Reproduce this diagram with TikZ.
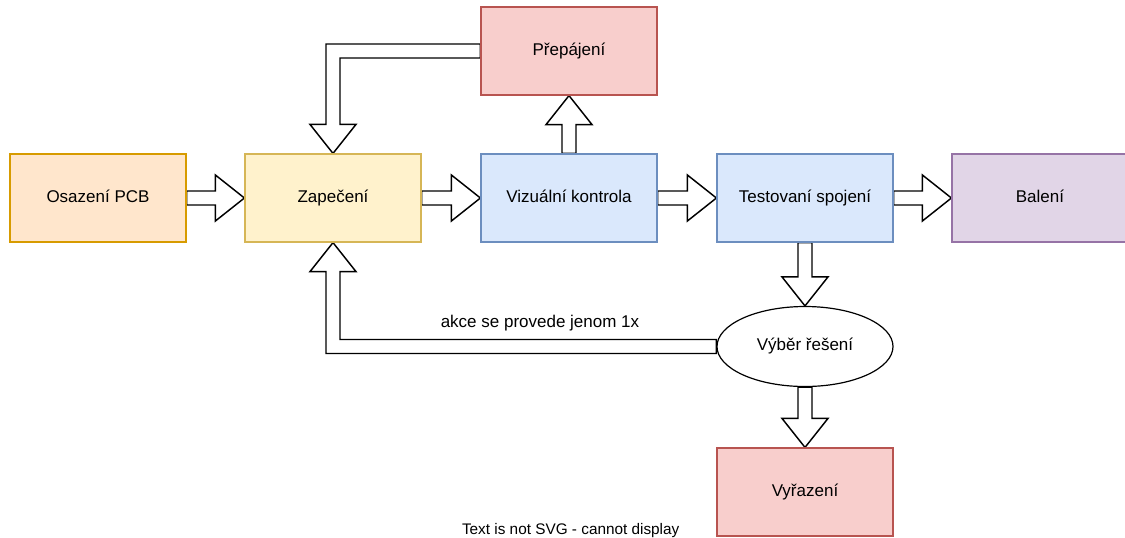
\documentclass[tikz,border=0pt]{standalone}
\usepackage{fontspec}
\setmainfont{Liberation Sans}
\usetikzlibrary{shapes.geometric,calc,backgrounds}
\definecolor{orfill}{HTML}{FFE6CC}\definecolor{ordraw}{HTML}{D79B00}
\definecolor{yefill}{HTML}{FFF2CC}\definecolor{yedraw}{HTML}{D6B656}
\definecolor{blfill}{HTML}{DAE8FC}\definecolor{bldraw}{HTML}{6C8EBF}
\definecolor{refill}{HTML}{F8CECC}\definecolor{redraw}{HTML}{B85450}
\definecolor{pufill}{HTML}{E1D5E7}\definecolor{pudraw}{HTML}{9673A6}
\tikzset{
  box/.style={draw, line width=0.9pt, minimum width=132pt, minimum height=66pt, inner sep=0pt,
    text height=9pt, text depth=2.6pt, font=\fontsize{12.75}{15}\selectfont},
  blk/.style={draw=black, fill=white, line width=1.1pt, line join=miter},
  lbl/.style={font=\fontsize{12.75}{15}\selectfont, inner sep=0pt},
}
% horizontal block arrow a.east -> b.west
\newcommand\hblk[2]{\draw[blk] let \p1=(#1.east), \p2=(#2.west) in
  (\x1,\y1+5.25pt) -- (\x2-21.75pt,\y1+5.25pt) -- (\x2-21.75pt,\y1+17.25pt) -- (\x2,\y1)
  -- (\x2-21.75pt,\y1-17.25pt) -- (\x2-21.75pt,\y1-5.25pt) -- (\x1,\y1-5.25pt) -- cycle;}
% downward block arrow a.south -> b.north
\newcommand\dblk[2]{\draw[blk] let \p1=(#1.south), \p2=(#2.north) in
  (\x1-5.25pt,\y1) -- (\x1-5.25pt,\y2+21.75pt) -- (\x1-17.25pt,\y2+21.75pt) -- (\x1,\y2)
  -- (\x1+17.25pt,\y2+21.75pt) -- (\x1+5.25pt,\y2+21.75pt) -- (\x1+5.25pt,\y1) -- cycle;}
% upward block arrow a.north -> b.south
\newcommand\ublk[2]{\draw[blk] let \p1=(#1.north), \p2=(#2.south) in
  (\x1-5.25pt,\y1) -- (\x1-5.25pt,\y2-21.75pt) -- (\x1-17.25pt,\y2-21.75pt) -- (\x1,\y2)
  -- (\x1+17.25pt,\y2-21.75pt) -- (\x1+5.25pt,\y2-21.75pt) -- (\x1+5.25pt,\y1) -- cycle;}
\begin{document}
\begin{tikzpicture}[x=0.75pt,y=-0.75pt]
\useasboundingbox (0,0) rectangle (1125,537);
\node[box, fill=orfill, draw=ordraw] (osaz) at (98,198) {Osazení PCB};
\node[box, fill=yefill, draw=yedraw] (zap) at (333,198) {Zapečení};
\node[box, fill=blfill, draw=bldraw] (viz) at (569,198) {Vizuální kontrola};
\node[box, fill=blfill, draw=bldraw] (test) at (805,198) {Testovaní spojení};
\node[box, fill=pufill, draw=pudraw] (bal) at (1040,198) {Balení};
\node[box, fill=refill, draw=redraw] (prep) at (569,51) {Přepájení};
\node[box, fill=white, draw=black, ellipse, minimum width=132pt, minimum height=60pt] (vyb) at (805,346.5) {Výběr řešení};
\node[box, fill=refill, draw=redraw] (vyr) at (805,492) {Vyřazení};

\begin{pgfonlayer}{background}
\hblk{osaz}{zap}
\hblk{zap}{viz}
\hblk{viz}{test}
\hblk{test}{bal}
\ublk{viz}{prep}
\dblk{test}{vyb}
\dblk{vyb}{vyr}

% Prepajeni -> Zapeceni (bent)
\draw[blk] let \p1=(prep.west), \p2=(zap.north) in
  (\x1,\y1+5.25pt) -- (\x2-5.25pt,\y1+5.25pt) -- (\x2-5.25pt,\y2+21.75pt) -- (\x2-17.25pt,\y2+21.75pt)
  -- (\p2) -- (\x2+17.25pt,\y2+21.75pt) -- (\x2+5.25pt,\y2+21.75pt) -- (\x2+5.25pt,\y1-5.25pt)
  -- (\x1,\y1-5.25pt) -- cycle;
% Vyber reseni -> Zapeceni (bent)
\draw[blk] let \p1=(vyb.west), \p2=(zap.south) in
  (\x1,\y1+5.25pt) -- (\x2+5.25pt,\y1+5.25pt) -- (\x2+5.25pt,\y2-21.75pt) -- (\x2+17.25pt,\y2-21.75pt)
  -- (\p2) -- (\x2-17.25pt,\y2-21.75pt) -- (\x2-5.25pt,\y2-21.75pt) -- (\x2-5.25pt,\y1-5.25pt)
  -- (\x1,\y1-5.25pt) -- cycle;
\end{pgfonlayer}
\node[lbl] (akce) at (540,323) {akce se provede jenom 1x};
\node[lbl, font=\fontsize{11.5}{13}\selectfont, anchor=base] (foot) at (570.7,534) {Text is not SVG - cannot display};
\end{tikzpicture}
\end{document}
